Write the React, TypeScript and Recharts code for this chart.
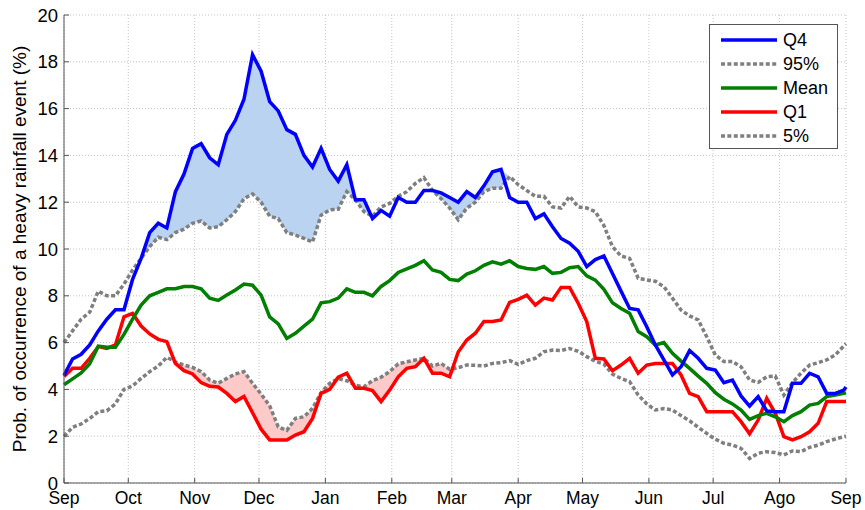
import { Area, CartesianGrid, ComposedChart, Line, XAxis, YAxis } from "recharts";

const FONT = '"Liberation Sans", Arial, Helvetica, sans-serif';

// day of the hydrological year (0 = 1 Sep), sampled every 4 days
const days = [...Array.from({ length: 92 }, (_, i) => i * 4), 365];

const monthTicks = [0, 30, 61, 91, 122, 153, 181, 212, 242, 273, 303, 334, 365];
const monthLabels = ["Sep", "Oct", "Nov", "Dec", "Jan", "Feb", "Mar", "Apr", "May", "Jun", "Jul", "Ago", "Sep"];
const yTicks = [0, 2, 4, 6, 8, 10, 12, 14, 16, 18, 20];

// probability of a heavy rainfall event (%)
const q4 = [
  4.6, 5.3, 5.5, 5.9, 6.5, 7.0, 7.4, 7.4, 8.7, 9.6,
  10.7, 11.1, 10.9, 12.45, 13.2, 14.3, 14.5, 13.9, 13.6, 14.9,
  15.5, 16.4, 18.3, 17.6, 16.3, 15.9, 15.1, 14.9, 14.0, 13.5,
  14.3, 13.4, 12.9, 13.6, 12.1, 12.1, 11.3, 11.65, 11.4, 12.2,
  12.0, 12.0, 12.5, 12.5, 12.4, 12.2, 12.0, 12.45, 12.2, 12.7,
  13.3, 13.4, 12.2, 12.0, 12.0, 11.3, 11.5, 10.95, 10.45, 10.25,
  9.9, 9.25, 9.55, 9.7, 8.95, 8.2, 7.46, 7.4, 6.68, 5.9,
  5.26, 4.62, 4.97, 5.66, 5.33, 4.9, 4.83, 4.29, 4.4, 3.72,
  3.29, 3.69, 3.08, 3.05, 3.05, 4.26, 4.26, 4.69, 4.54, 3.83,
  3.83, 3.97, 4.1,
];

const p95 = [
  6.0, 6.5, 7.0, 7.3, 8.2, 8.0, 8.0, 8.5, 9.1, 9.6,
  10.1, 10.5, 10.4, 10.7, 10.85, 11.1, 11.2, 10.9, 10.95, 11.25,
  11.6, 12.15, 12.35, 12.0, 11.4, 11.3, 10.7, 10.6, 10.45, 10.3,
  11.45, 11.67, 11.7, 12.45, 12.1, 11.6, 11.4, 11.8, 11.95, 12.25,
  12.45, 12.8, 13.05, 12.5, 12.15, 11.75, 11.25, 11.75, 12.0, 12.45,
  12.6, 12.6, 13.1, 12.75, 12.5, 12.25, 12.25, 11.8, 11.75, 12.25,
  11.8, 11.75, 11.6, 11.0, 10.1, 9.7, 9.6, 8.75, 8.68, 8.62,
  8.39, 7.9, 7.39, 7.14, 6.97, 6.25, 5.47, 5.19, 5.19, 4.97,
  4.4, 4.3, 4.54, 4.57, 3.76, 4.29, 4.69, 5.04, 5.14, 5.26,
  5.47, 5.86, 5.95,
];

const mean = [
  4.2, 4.45, 4.7, 5.1, 5.85, 5.8, 5.8, 6.35, 7.0, 7.6,
  8.0, 8.15, 8.3, 8.3, 8.4, 8.4, 8.3, 7.9, 7.8, 8.03,
  8.25, 8.5, 8.45, 8.03, 7.1, 6.8, 6.18, 6.4, 6.7, 7.0,
  7.7, 7.75, 7.9, 8.3, 8.15, 8.15, 8.0, 8.4, 8.65, 9.0,
  9.15, 9.3, 9.5, 9.1, 9.0, 8.7, 8.65, 8.93, 9.07, 9.3,
  9.45, 9.35, 9.5, 9.25, 9.17, 9.13, 9.25, 8.96, 9.0, 9.2,
  9.25, 8.85, 8.67, 8.28, 7.7, 7.46, 7.25, 6.47, 6.25, 5.9,
  6.0, 5.54, 5.21, 4.9, 4.57, 4.26, 3.86, 3.58, 3.38, 3.12,
  2.72, 2.88, 2.98, 2.83, 2.62, 2.88, 3.05, 3.33, 3.4, 3.69,
  3.76, 3.83, 3.85,
];

const q1 = [
  4.55, 4.9, 4.9, 5.33, 5.83, 5.75, 5.9, 7.1, 7.25, 6.71,
  6.37, 6.14, 6.04, 5.11, 4.8, 4.66, 4.29, 4.13, 4.1, 3.83,
  3.48, 3.7, 3.0, 2.3, 1.84, 1.84, 1.84, 2.05, 2.19, 2.76,
  3.83, 4.0, 4.52, 4.69, 4.05, 4.05, 3.95, 3.48, 3.97, 4.54,
  4.9, 4.97, 5.33, 4.69, 4.69, 4.54, 5.6, 6.11, 6.4, 6.9,
  6.9, 6.97, 7.72, 7.85, 8.03, 7.6, 7.9, 7.82, 8.36, 8.36,
  7.68, 6.9, 5.33, 5.3, 4.8, 5.04, 5.33, 4.69, 5.04, 5.11,
  5.11, 5.11, 4.62, 3.83, 3.69, 3.05, 3.05, 3.05, 3.05, 2.62,
  2.1, 2.69, 3.62, 2.98, 1.98, 1.84, 1.98, 2.19, 2.55, 3.48,
  3.48, 3.48, 3.48,
];

const p5 = [
  2.0, 2.38, 2.52, 2.76, 3.05, 3.09, 3.38, 4.0, 4.15, 4.47,
  4.76, 5.0, 5.37, 5.18, 5.04, 4.94, 4.76, 4.4, 4.26, 4.47,
  4.66, 4.76, 4.26, 3.8, 3.3, 2.4, 2.25, 2.76, 2.83, 3.19,
  3.86, 4.26, 4.46, 4.37, 4.17, 4.12, 4.37, 4.52, 4.76, 5.09,
  5.18, 5.26, 5.33, 5.0, 5.11, 4.86, 4.93, 5.04, 5.03, 5.0,
  5.11, 5.14, 5.23, 5.07, 5.23, 5.33, 5.61, 5.68, 5.66, 5.75,
  5.63, 5.4, 5.2, 5.08, 4.65, 4.47, 4.33, 3.76, 3.38, 3.12,
  3.18, 3.12, 2.88, 2.66, 2.38, 2.12, 1.87, 1.7, 1.62, 1.48,
  1.05, 1.27, 1.34, 1.3, 1.2, 1.37, 1.34, 1.52, 1.62, 1.77,
  1.88, 1.98, 2.0,
];

const rows = days.map((day, i) => ({
  day,
  q4: q4[i],
  p95: p95[i],
  mean: mean[i],
  q1: q1[i],
  p5: p5[i],
  // bands: Q4 above the 95% curve, Q1 below the 5% curve
  above: [p95[i], Math.max(q4[i], p95[i])],
  below: [Math.min(q1[i], p5[i]), p5[i]],
}));

const BLUE = "#0000ff";
const GREEN = "#007f00";
const RED = "#ff0000";
const GREY = "#7f7f7f";
const DASH = "4 2.4";
const AXIS = "#555";
const LW = 3.5;

const legendItems = [
  { name: "Q4", color: BLUE, dashed: false },
  { name: "95%", color: GREY, dashed: true },
  { name: "Mean", color: GREEN, dashed: false },
  { name: "Q1", color: RED, dashed: false },
  { name: "5%", color: GREY, dashed: true },
];

function YTitle() {
  return (
    <text
      x={26}
      y={249}
      transform="rotate(-90 26 249)"
      textAnchor="middle"
      fontSize={19}
      fontFamily={FONT}
      fill="#000"
    >
      Prob. of occurrence of a heavy rainfall event (%)
    </text>
  );
}

function LegendBox() {
  return (
    <div
      style={{
        position: "absolute",
        left: 709,
        top: 24,
        width: 127,
        height: 123,
        border: `1px solid ${AXIS}`,
        background: "#fff",
        fontFamily: FONT,
        fontSize: 18,
      }}
    >
      {legendItems.map((it, i) => (
        <div
          key={it.name}
          style={{ position: "absolute", left: 0, top: 4 + i * 24, height: 22, display: "flex", alignItems: "center" }}
        >
          <svg width={70} height={22} style={{ display: "block" }}>
            <line
              x1={11}
              x2={67}
              y1={11}
              y2={11}
              stroke={it.color}
              strokeWidth={LW}
              strokeDasharray={it.dashed ? DASH : undefined}
            />
          </svg>
          <span style={{ marginLeft: 3, lineHeight: "22px" }}>{it.name}</span>
        </div>
      ))}
    </div>
  );
}

export default function App() {
  return (
    <div style={{ position: "absolute", left: 0, top: 0, width: 865, height: 510, background: "#fff" }}>
      <ComposedChart width={865} height={510} data={rows} margin={{ top: 15, right: 19, bottom: 0, left: 0 }}>
        <CartesianGrid xAxisId="b" yAxisId="l" stroke="#c4c4c4" strokeDasharray="1 2" />
        <XAxis
          xAxisId="b"
          dataKey="day"
          type="number"
          domain={[0, 365]}
          ticks={monthTicks}
          interval={0}
          tickFormatter={(_v: number, i: number) => monthLabels[i]}
          tickSize={-5}
          tickMargin={14}
          height={27}
          stroke={AXIS}
          tick={{ fill: "#000", fontSize: 17.5, fontFamily: FONT }}
        />
        <XAxis
          xAxisId="t"
          orientation="top"
          dataKey="day"
          type="number"
          domain={[0, 365]}
          ticks={monthTicks}
          interval={0}
          tick={false}
          tickSize={-5}
          height={0}
          stroke={AXIS}
        />
        <YAxis
          yAxisId="l"
          type="number"
          domain={[0, 20]}
          ticks={yTicks}
          interval={0}
          width={64}
          tickSize={-5}
          tickMargin={11}
          stroke={AXIS}
          tick={{ fill: "#000", fontSize: 18.5, fontFamily: FONT }}
          label={<YTitle />}
        />
        <YAxis
          yAxisId="r"
          orientation="right"
          type="number"
          domain={[0, 20]}
          ticks={yTicks}
          interval={0}
          width={0}
          tick={false}
          tickSize={-5}
          stroke={AXIS}
        />
        <Area
          xAxisId="b"
          yAxisId="l"
          type="linear"
          dataKey="above"
          stroke="none"
          fill="#b9d3f0"
          fillOpacity={1}
          dot={false}
          activeDot={false}
          isAnimationActive={false}
        />
        <Area
          xAxisId="b"
          yAxisId="l"
          type="linear"
          dataKey="below"
          stroke="none"
          fill="#fdcaca"
          fillOpacity={1}
          dot={false}
          activeDot={false}
          isAnimationActive={false}
        />
        <Line xAxisId="b" yAxisId="l" type="linear" dataKey="p95" stroke={GREY} strokeWidth={LW} strokeDasharray={DASH} dot={false} activeDot={false} isAnimationActive={false} />
        <Line xAxisId="b" yAxisId="l" type="linear" dataKey="p5" stroke={GREY} strokeWidth={LW} strokeDasharray={DASH} dot={false} activeDot={false} isAnimationActive={false} />
        <Line xAxisId="b" yAxisId="l" type="linear" dataKey="q1" stroke={RED} strokeWidth={LW} dot={false} activeDot={false} isAnimationActive={false} />
        <Line xAxisId="b" yAxisId="l" type="linear" dataKey="mean" stroke={GREEN} strokeWidth={LW} dot={false} activeDot={false} isAnimationActive={false} />
        <Line xAxisId="b" yAxisId="l" type="linear" dataKey="q4" stroke={BLUE} strokeWidth={LW} dot={false} activeDot={false} isAnimationActive={false} />
      </ComposedChart>
      <LegendBox />
    </div>
  );
}
